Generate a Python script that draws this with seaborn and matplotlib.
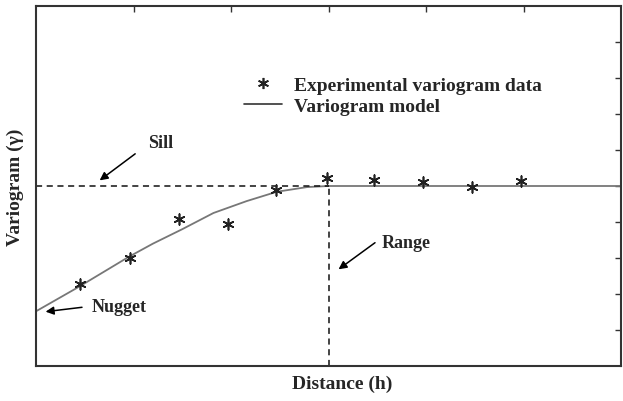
import matplotlib
matplotlib.use("Agg")
import matplotlib.pyplot as plt
import seaborn as sns
import pandas as pd
from matplotlib.lines import Line2D

exp_h = [0.45, 0.96, 1.47, 1.97, 2.46, 2.98, 3.47, 3.97, 4.47, 4.97]
exp_gamma = [2.28, 3.00, 4.08, 3.94, 4.89, 5.22, 5.17, 5.11, 4.97, 5.14]

# Variogram model curve
model_h = [0.0, 0.44, 0.95, 1.2, 1.5, 1.82, 2.16, 2.47, 2.78, 3.0, 4.0, 5.0, 6.0]
model_gamma = [1.52, 2.2, 3.03, 3.4, 3.8, 4.25, 4.58, 4.84, 4.97, 5.0, 5.0, 5.0, 5.0]

nugget = 1.5
sill = 5.0
range_h = 3.0

x_ticks = [1, 2, 3, 4, 5]
y_ticks = [1, 2, 3, 4, 5, 6, 7, 8, 9]

sns.set_style("white")
plt.rcParams["font.family"] = ["Liberation Serif", "DejaVu Serif"]

fig = plt.figure(figsize=(6.23, 4.02), dpi=100)
ax = fig.add_axes([36 / 623, 35 / 402, 585 / 623, 360 / 402])

df_model = pd.DataFrame({"h": model_h, "g": model_gamma})
df_exp = pd.DataFrame({"h": exp_h, "g": exp_gamma})

sns.lineplot(data=df_model, x="h", y="g", ax=ax, color="#777777", lw=1.3, legend=False)
sns.scatterplot(data=df_exp, x="h", y="g", ax=ax, marker=(6, 2, 0), s=60,
                color="#222222", linewidth=1.2, legend=False, zorder=5)

# Sill and range dashed lines
ax.plot([0, range_h], [sill, sill], ls=(0, (4, 3)), color="#111111", lw=1.1)
ax.plot([range_h, range_h], [0, sill], ls=(0, (4, 3)), color="#111111", lw=1.1)

ax.set_xlim(0, 6)
ax.set_ylim(0, 10)
ax.set_xticks(x_ticks)
ax.set_yticks(y_ticks)
ax.tick_params(direction="in", length=4, width=1, colors="#333333",
               top=True, right=True, labelbottom=False, labelleft=False)
for s in ax.spines.values():
    s.set_color("#333333")
    s.set_linewidth(1.5)

ax.set_xlabel("Distance (h)", fontsize=14, fontweight="bold")
ax.set_ylabel("Variogram (γ)", fontsize=14, fontweight="bold")
ax.xaxis.set_label_coords((342 - 36) / 585, -0.025)
ax.yaxis.set_label_coords(-0.02, 0.5)

arrow = dict(arrowstyle="-|>", color="black", lw=1.1, mutation_scale=12)
ax.annotate("", xy=(0.63, 5.11), xytext=(1.04, 5.94), arrowprops=arrow)
ax.text(1.15, 6.22, "Sill", fontsize=13, fontweight="bold", va="center", ha="left")
ax.annotate("", xy=(0.07, 1.5), xytext=(0.5, 1.64), arrowprops=arrow)
ax.text(0.57, 1.64, "Nugget", fontsize=13, fontweight="bold", va="center", ha="left")
ax.annotate("", xy=(3.08, 2.64), xytext=(3.5, 3.47), arrowprops=arrow)
ax.text(3.55, 3.44, "Range", fontsize=13, fontweight="bold", va="center", ha="left")

handles = [
    Line2D([], [], ls="none", marker=(6, 2, 0), markersize=8, color="#222222", mew=1.2),
    Line2D([], [], color="#333333", lw=1.2),
]
ax.legend(handles, ["Experimental variogram data", "Variogram model"],
          loc="upper left", bbox_to_anchor=((226 - 36) / 585, (367 - 60) / 360),
          frameon=False, handlelength=2.0, handletextpad=0.6, labelspacing=0.15,
          prop={"family": "Liberation Serif", "weight": "bold", "size": 14})

fig.savefig("out.png", dpi=100)
